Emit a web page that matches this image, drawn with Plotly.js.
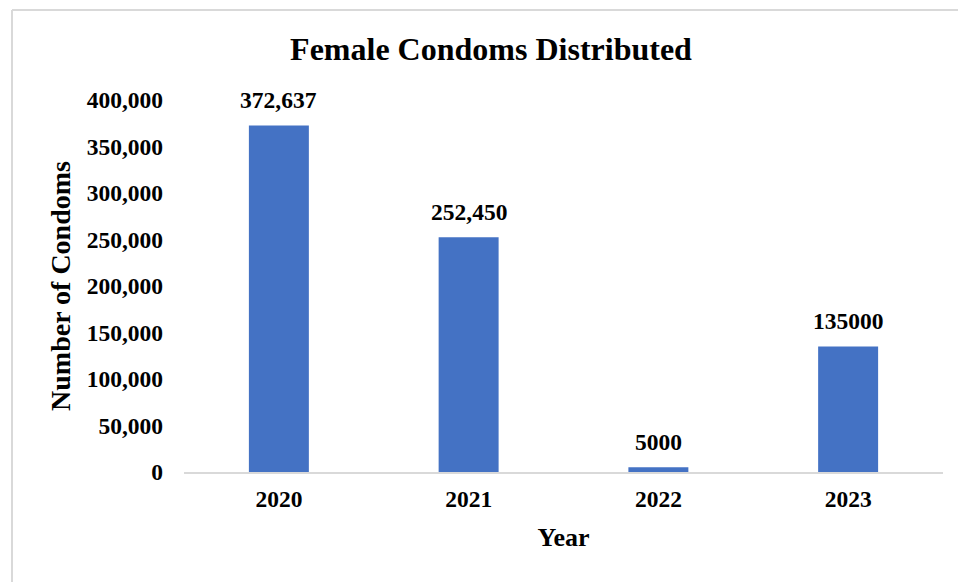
<!DOCTYPE html>
<html>
<head>
<meta charset="utf-8">
<script src="https://cdn.plot.ly/plotly-3.0.1.min.js"></script>
<style>
  html, body { margin: 0; padding: 0; background: #ffffff; }
  #chart { width: 958px; height: 582px; }
</style>
</head>
<body>
<div id="chart"></div>
<script>
// Female condoms distributed per year
const years = ['2020', '2021', '2022', '2023'];
const condoms = [372637, 252450, 5000, 135000];
// whether each bar's label uses a thousands separator
const labelGrouped = [true, true, false, false];

const yTickValues = [0, 50000, 100000, 150000, 200000, 250000, 300000, 350000, 400000];

const W = 958, H = 582;
const M = { l: 184, r: 15, t: 100, b: 110 };
const plotW = W - M.l - M.r;
const plotH = H - M.t - M.b;

const serif = 'Liberation Serif, "Times New Roman", Times, serif';

// frame around the chart area (top and left edges visible)
const frameX = (12 - M.l) / plotW;
const frameY = (H - M.b - 10) / plotH;

const labels = condoms.map((v, i) =>
  labelGrouped[i] ? v.toLocaleString('en-US') : String(v));

// value labels above each bar (x given as category index)
const annotations = years.map((yr, i) => ({
  x: i,
  y: condoms[i],
  xref: 'x',
  yref: 'y',
  text: labels[i],
  showarrow: false,
  yanchor: 'middle',
  yshift: 25,
  font: { family: serif, size: 23.5, color: '#000000', weight: 'bold' }
}));

const trace = {
  type: 'bar',
  x: years,
  y: condoms,
  marker: { color: '#4472C4', line: { width: 0 } },
  hoverinfo: 'x+y'
};

const layout = {
  width: W,
  height: H,
  margin: M,
  paper_bgcolor: '#ffffff',
  plot_bgcolor: '#ffffff',
  font: { family: serif, color: '#000000', weight: 'bold' },
  showlegend: false,
  bargap: 0.684,
  title: {
    text: 'Female Condoms Distributed',
    font: { family: serif, size: 32, color: '#000000', weight: 'bold' },
    xref: 'container',
    yref: 'container',
    x: 491 / W,
    y: 1 - 49 / H,
    xanchor: 'center',
    yanchor: 'middle'
  },
  xaxis: {
    type: 'category',
    categoryorder: 'array',
    categoryarray: years,
    range: [-0.5, years.length - 0.5],
    autorange: false,
    showgrid: false,
    zeroline: false,
    showline: true,
    linecolor: '#d9d9d9',
    linewidth: 1.5,
    ticks: '',
    ticklabelstandoff: 5,
    tickfont: { family: serif, size: 23.5, color: '#000000', weight: 'bold' },
    title: {
      text: 'Year',
      font: { family: serif, size: 26, color: '#000000', weight: 'bold' },
      standoff: 17
    }
  },
  yaxis: {
    range: [0, 400000],
    autorange: false,
    tickvals: yTickValues,
    tickformat: ',',
    showgrid: false,
    zeroline: false,
    showline: false,
    ticks: '',
    ticklabelstandoff: 20,
    tickfont: { family: serif, size: 23.5, color: '#000000', weight: 'bold' },
    title: {
      text: 'Number of Condoms',
      font: { family: serif, size: 28, color: '#000000', weight: 'bold' },
      standoff: 7
    }
  },
  annotations: annotations,
  shapes: [
    {
      type: 'line', xref: 'paper', yref: 'paper', layer: 'below',
      x0: frameX, x1: frameX, y0: -1, y1: frameY,
      line: { color: '#d9d9d9', width: 2 }
    },
    {
      type: 'line', xref: 'paper', yref: 'paper', layer: 'below',
      x0: frameX, x1: 2, y0: frameY, y1: frameY,
      line: { color: '#d9d9d9', width: 2 }
    }
  ]
};

Plotly.newPlot('chart', [trace], layout, { displayModeBar: false, staticPlot: true });
</script>
</body>
</html>
